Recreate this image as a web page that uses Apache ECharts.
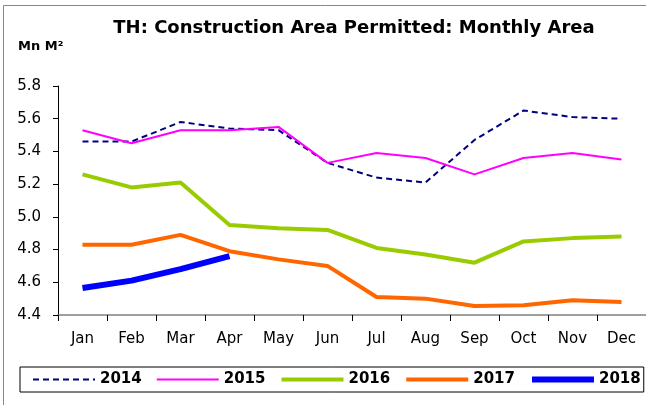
<!DOCTYPE html>
<html>
<head>
<meta charset="utf-8">
<script src="https://cdn.jsdelivr.net/npm/echarts@6/dist/echarts.min.js"></script>
<style>
  html, body { margin: 0; padding: 0; background: #fff; }
  #main { width: 646px; height: 405px; }
</style>
</head>
<body>
<div id="main"></div>
<script>
var months = ['Jan', 'Feb', 'Mar', 'Apr', 'May', 'Jun', 'Jul', 'Aug', 'Sep', 'Oct', 'Nov', 'Dec'];
var y2014 = [5.46, 5.46, 5.58, 5.54, 5.53, 5.33, 5.24, 5.21, 5.47, 5.65, 5.61, 5.60];
var y2015 = [5.53, 5.45, 5.53, 5.53, 5.55, 5.33, 5.39, 5.36, 5.26, 5.36, 5.39, 5.35];
var y2016 = [5.26, 5.18, 5.21, 4.95, 4.93, 4.92, 4.81, 4.77, 4.72, 4.85, 4.87, 4.88];
var y2017 = [4.83, 4.83, 4.89, 4.79, 4.74, 4.70, 4.51, 4.50, 4.455, 4.46, 4.49, 4.48];
var y2018 = [4.565, 4.61, 4.68, 4.76];

var FONT = 'DejaVu Sans, Arial, sans-serif';
var myChart = echarts.init(document.getElementById('main'));

// 线条样式：颜色、粗细、虚线
var styles = {
    '2014': { color: '#000080', width: 2, type: [6, 4] },
    '2015': { color: '#ff00ff', width: 2, type: 'solid' },
    '2016': { color: '#99cc00', width: 4, type: 'solid' },
    '2017': { color: '#ff6600', width: 4, type: 'solid' },
    '2018': { color: '#0000ff', width: 6, type: 'solid' }
};

function line(name, data) {
    var s = styles[name];
    return {
        name: name,
        type: 'line',
        data: data,
        symbol: 'none',
        lineStyle: { color: s.color, width: s.width, type: s.type },
        itemStyle: { color: s.color }
    };
}

function legendItem(name) {
    var s = styles[name];
    return {
        name: name,
        itemStyle: { opacity: 0 },
        lineStyle: { color: s.color, width: s.width, type: s.type }
    };
}

var option = {
    backgroundColor: '#fff',
    animation: false,
    textStyle: { fontFamily: FONT },
    title: {
        text: 'TH: Construction Area Permitted: Monthly Area',
        left: 349,
        textAlign: 'center',
        top: 14,
        textStyle: { fontSize: 18, fontWeight: 'bold', color: '#000', fontFamily: FONT }
    },
    graphic: [
        {
            type: 'rect',
            shape: { x: 3.5, y: 5.5, width: 700, height: 500 },
            style: { fill: 'none', stroke: '#888', lineWidth: 1 },
            silent: true
        },
        {
            type: 'text',
            left: 18,
            top: 40,
            style: { text: 'Mn M\u00b2', font: 'bold 13px DejaVu Sans, Arial, sans-serif', fill: '#000' }
        }
    ],
    legend: {
        left: 20,
        top: 367,
        width: 615,
        itemWidth: 62,
        itemHeight: 10,
        itemGap: 14,
        padding: [5, 3, 5, 12],
        borderColor: '#000',
        borderWidth: 1,
        data: ['2014', '2015', '2016', '2017', '2018'].map(legendItem),
        textStyle: { fontSize: 15, fontWeight: 'bold', color: '#000', fontFamily: FONT }
    },
    grid: {
        left: 58,
        right: 0,
        top: 86,
        bottom: 90
    },
    xAxis: {
        type: 'category',
        data: months,
        boundaryGap: true,
        axisLine: { lineStyle: { color: '#808080', width: 1.5 } },
        axisTick: { show: true, length: 6, lineStyle: { color: '#000' } },
        axisLabel: { fontSize: 15, color: '#000', margin: 17, interval: 0 },
        splitLine: { show: false }
    },
    yAxis: {
        type: 'value',
        min: 4.4,
        max: 5.8,
        interval: 0.2,
        axisLine: { show: true, lineStyle: { color: '#000' } },
        axisTick: { show: true, length: 5, lineStyle: { color: '#000' } },
        axisLabel: {
            fontSize: 15, color: '#000', margin: 17,
            formatter: function (v) { return v.toFixed(1); }
        },
        splitLine: { show: false }
    },
    series: [
        line('2014', y2014),
        line('2015', y2015),
        line('2016', y2016),
        line('2017', y2017),
        line('2018', y2018)
    ]
};

myChart.setOption(option);
</script>
</body>
</html>
